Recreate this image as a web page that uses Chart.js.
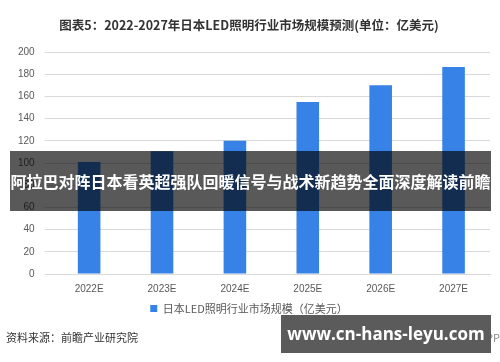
<!DOCTYPE html>
<html>
<head>
<meta charset="utf-8">
<script src="https://cdn.jsdelivr.net/npm/chart.js@4/dist/chart.umd.min.js"></script>
<style>
  html, body { margin: 0; padding: 0; background: #fff; }
  #wrap { position: relative; width: 500px; height: 362px; overflow: hidden; font-family: "Noto Sans CJK SC", "Noto Sans", sans-serif; }
  #banner { position: absolute; left: 10px; top: 151px; width: 481px; height: 60px; background: rgba(0,0,0,0.65);
    color: #fff; font-weight: bold; font-size: 16px; line-height: 60px; text-align: center; white-space: nowrap; }
  #source { position: absolute; left: 6px; top: 329px; font-size: 11px; color: #333; }
  #app { position: absolute; right: 0px; top: 329px; font-size: 11px; color: #888; white-space: nowrap; }
  #site { position: absolute; left: 281px; top: 315px; width: 210px; height: 38px; background: #5b5b5b;
    color: #fff; font-family: "Open Sans", sans-serif; font-weight: bold; font-size: 17px; line-height: 38px; text-align: center; white-space: nowrap; }
</style>
</head>
<body>
<div id="wrap">
  <canvas id="myChart" width="500" height="362"></canvas>
  <div id="banner">阿拉巴对阵日本看英超强队回暖信号与战术新趋势全面深度解读前瞻</div>
  <div id="source">资料来源：前瞻产业研究院</div>
  <div id="app">前瞻经济学人APP</div>
  <div id="site">www.cn-hans-leyu.com</div>
</div>
<script>
const titleText = "图表5：2022-2027年日本LED照明行业市场规模预测(单位：亿美元)";
const years = ["2022E", "2023E", "2024E", "2025E", "2026E", "2027E"];
const marketSize = [101, 110.5, 120, 155, 170, 186.5];
const seriesName = "日本LED照明行业市场规模（亿美元）";
const yTicks = [0, 20, 40, 60, 80, 100, 120, 140, 160, 180, 200];

const cjk = '"Noto Sans CJK SC", "Noto Sans", sans-serif';
const grey = "#595959";

let ctx = document.getElementById("myChart");
let myChart = new Chart(ctx, {
  type: "bar",
  data: {
    labels: years,
    datasets: [{
      label: seriesName,
      data: marketSize,
      backgroundColor: "#3782e6",
      barPercentage: 0.31,
      categoryPercentage: 1.0
    }]
  },
  options: {
    responsive: false,
    animation: false,
    layout: { padding: { left: 8, right: 10, top: 0, bottom: 38 } },
    plugins: {
      title: {
        display: true,
        text: titleText,
        color: "#333",
        font: { family: cjk, size: 12.5, weight: "bold" },
        padding: { top: 18, bottom: 19 }
      },
      legend: {
        display: true,
        position: "bottom",
        labels: {
          color: grey,
          font: { family: cjk, size: 11 },
          boxWidth: 7,
          boxHeight: 7,
          padding: 7
        }
      },
      tooltip: { enabled: false }
    },
    scales: {
      x: {
        grid: { display: false },
        border: { display: true, color: "#d9d9d9" },
        ticks: { color: grey, font: { family: "Liberation Sans, sans-serif", size: 10 }, padding: 1 }
      },
      y: {
        min: 0,
        max: 200,
        afterBuildTicks: (axis) => { axis.ticks = yTicks.map(v => ({ value: v })); },
        grid: { color: "#d9d9d9" },
        border: { display: false },
        ticks: { color: grey, font: { family: "Liberation Sans, sans-serif", size: 10 }, padding: 10 }
      }
    }
  }
});
</script>
</body>
</html>
